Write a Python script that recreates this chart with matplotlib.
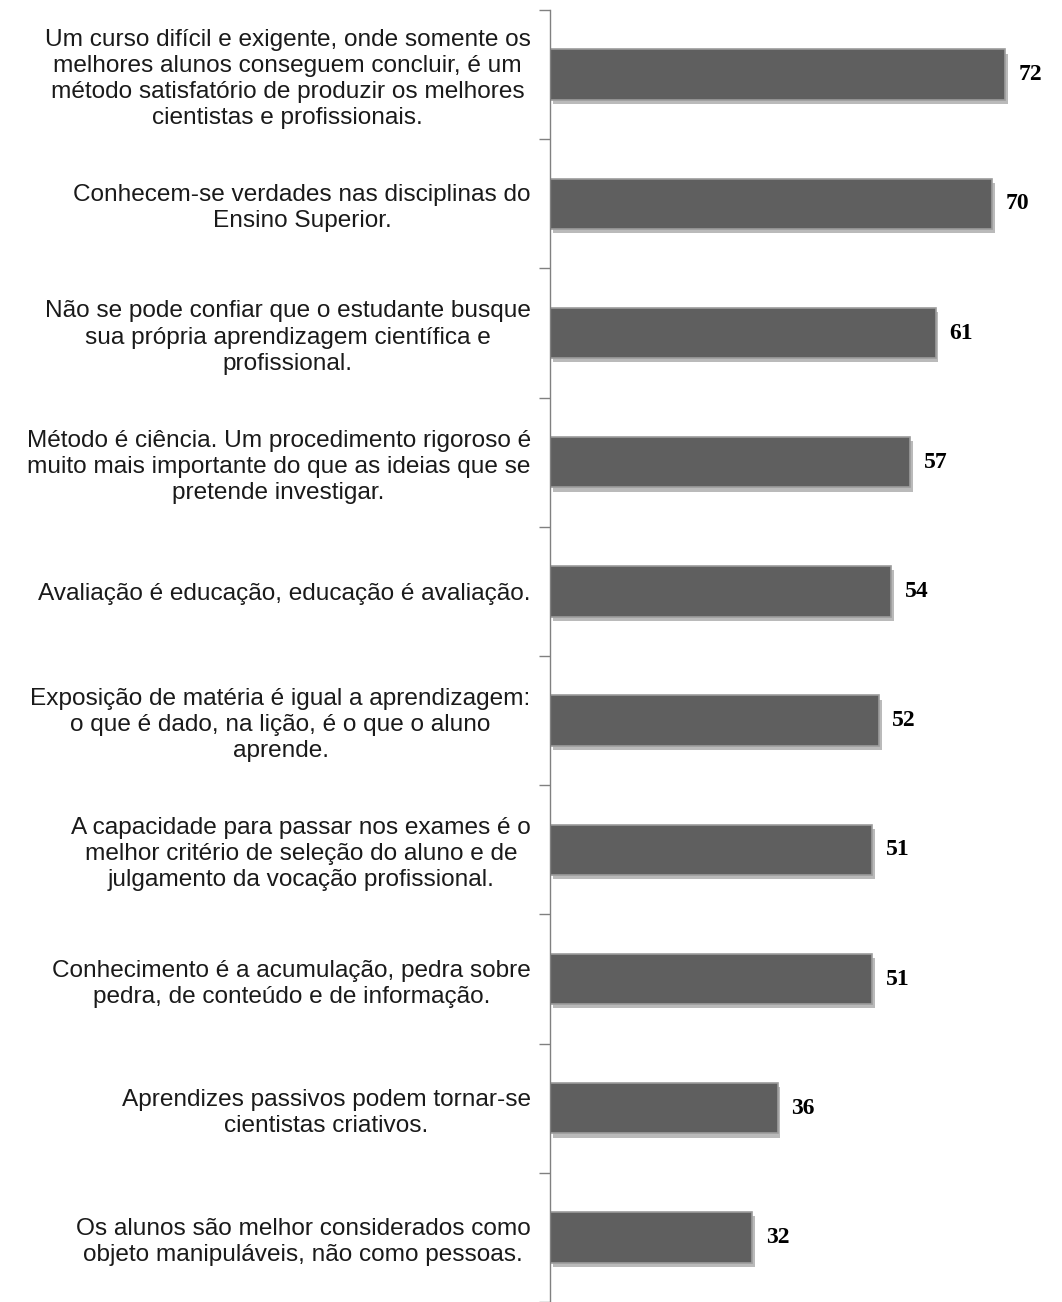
import matplotlib
matplotlib.use("Agg")
import matplotlib.pyplot as plt
import matplotlib.patheffects as pe
import numpy as np

# statements (top to bottom) and their scores
labels = [
    "Um curso difícil e exigente, onde somente os\nmelhores alunos conseguem concluir, é um\nmétodo satisfatório de produzir os melhores\ncientistas e profissionais.",
    "Conhecem-se verdades nas disciplinas do\nEnsino Superior.",
    "Não se pode confiar que o estudante busque\nsua própria aprendizagem científica e\nprofissional.",
    "Método é ciência. Um procedimento rigoroso é\nmuito mais importante do que as ideias que se\npretende investigar.",
    "Avaliação é educação, educação é avaliação.",
    "Exposição de matéria é igual a aprendizagem:\no que é dado, na lição, é o que o aluno\naprende.",
    "A capacidade para passar nos exames é o\nmelhor critério de seleção do aluno e de\njulgamento da vocação profissional.",
    "Conhecimento é a acumulação, pedra sobre\npedra, de conteúdo e de informação.",
    "Aprendizes passivos podem tornar-se\ncientistas criativos.",
    "Os alunos são melhor considerados como\nobjeto manipuláveis, não como pessoas.",
]
values = [72, 70, 61, 57, 54, 52, 51, 51, 36, 32]

fig = plt.figure(figsize=(10.62, 13.02), dpi=100)
ax = fig.add_axes([0.518, 0.0, 0.482, 0.9923])

y = np.arange(len(values))
bars = ax.barh(y, values, height=0.39, color="#5f5f5f", edgecolor="#9c9c9c", linewidth=1.2)
for b in bars:
    b.set_path_effects([pe.SimplePatchShadow(offset=(2, -3), alpha=0.3), pe.Normal()])

for yi, v in zip(y, values):
    ax.text(v + 2.1, yi, str(v), va="center", ha="left", fontsize=17,
            fontweight="bold", family="Liberation Serif", color="black")

ax.set_xlim(0, 81)
ax.set_ylim(len(values) - 0.5, -0.5)

ax.set_yticks(y)
ax.set_yticklabels(labels, fontsize=17.6, family="Liberation Sans", color="#1a1a1a")
for t in ax.get_yticklabels():
    t.set_multialignment("center")
    t.set_linespacing(1.24)
ax.tick_params(axis="y", which="major", length=0, pad=14)
ax.set_yticks(np.arange(-0.5, len(values), 1), minor=True)
ax.tick_params(axis="y", which="minor", length=8, color="#808080", width=1)

ax.set_xticks([])
for s in ["top", "right", "bottom"]:
    ax.spines[s].set_visible(False)
ax.spines["left"].set_color("#808080")
ax.spines["left"].set_linewidth(1)

fig.savefig("out.png", dpi=100, facecolor="white")
